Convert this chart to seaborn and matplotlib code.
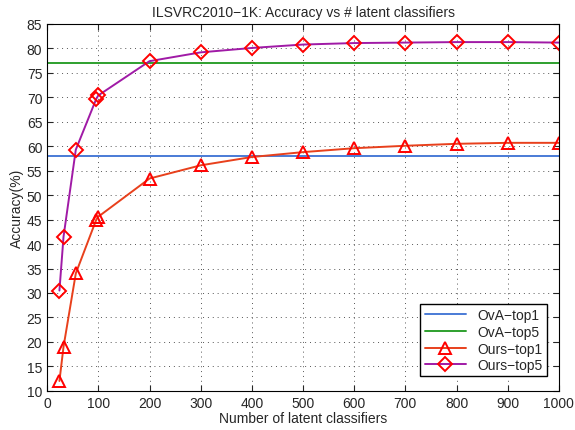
import matplotlib
matplotlib.use("Agg")
import matplotlib.pyplot as plt
import seaborn as sns

# data
n_latent = [24, 32, 56, 96, 100, 200, 300, 400, 500, 600, 700, 800, 900, 1000]
ours_top1 = [12.0, 19.0, 34.0, 45.0, 45.6, 53.4, 56.1, 57.8, 58.8, 59.6, 60.1, 60.5, 60.7, 60.7]
ours_top5 = [30.5, 41.5, 59.3, 69.7, 70.4, 77.4, 79.2, 80.1, 80.8, 81.1, 81.2, 81.3, 81.3, 81.2]
ova_x = [0, 1000]
ova_top1 = [58.0, 58.0]
ova_top5 = [77.0, 77.0]

sns.set_style("ticks")
plt.rcParams["font.family"] = ["Liberation Sans", "DejaVu Sans"]

fig = plt.figure(figsize=(5.75, 4.31), dpi=100)
ax = fig.add_axes([0.082, 0.091, 0.890, 0.851])

sns.lineplot(x=ova_x, y=ova_top1, ax=ax, color="#4a7bd6", lw=1.4, label="OvA\u2212top1")
sns.lineplot(x=ova_x, y=ova_top5, ax=ax, color="#2ea02e", lw=1.4, label="OvA\u2212top5")
sns.lineplot(x=n_latent, y=ours_top1, ax=ax, color="#e8401c", lw=1.4, marker="^",
             markersize=9, markerfacecolor="none", markeredgecolor="red",
             markeredgewidth=1.4, label="Ours\u2212top1")
sns.lineplot(x=n_latent, y=ours_top5, ax=ax, color="#a01aa6", lw=1.4, marker="D",
             markersize=7, markerfacecolor="none", markeredgecolor="red",
             markeredgewidth=1.4, label="Ours\u2212top5")

ax.set_xlim(0, 1000)
ax.set_ylim(10, 85)
ax.set_xticks(range(0, 1001, 100))
ax.set_yticks(range(10, 86, 5))
ax.grid(True, ls=(0, (1, 4)), color="#555555", lw=0.7)
ax.tick_params(direction="in", labelsize=10, length=4, top=True, right=True)
for s in ax.spines.values():
    s.set_visible(True)
    s.set_color("black")
    s.set_linewidth(0.8)

ax.set_xlabel("Number of latent classifiers", fontsize=10, labelpad=1)
ax.set_ylabel("Accuracy(%)", fontsize=10, labelpad=2)
ax.set_title("ILSVRC2010\u22121K: Accuracy vs # latent classifiers", fontsize=10, pad=6)

leg = ax.legend(loc="lower right", fontsize=10, frameon=True, fancybox=False,
                handlelength=3.0, borderpad=0.3, labelspacing=0.2,
                bbox_to_anchor=(0.99, 0.02))
leg.get_frame().set_edgecolor("black")
leg.get_frame().set_linewidth(1.0)
leg.get_frame().set_alpha(1)

fig.savefig("out.png", dpi=100)
